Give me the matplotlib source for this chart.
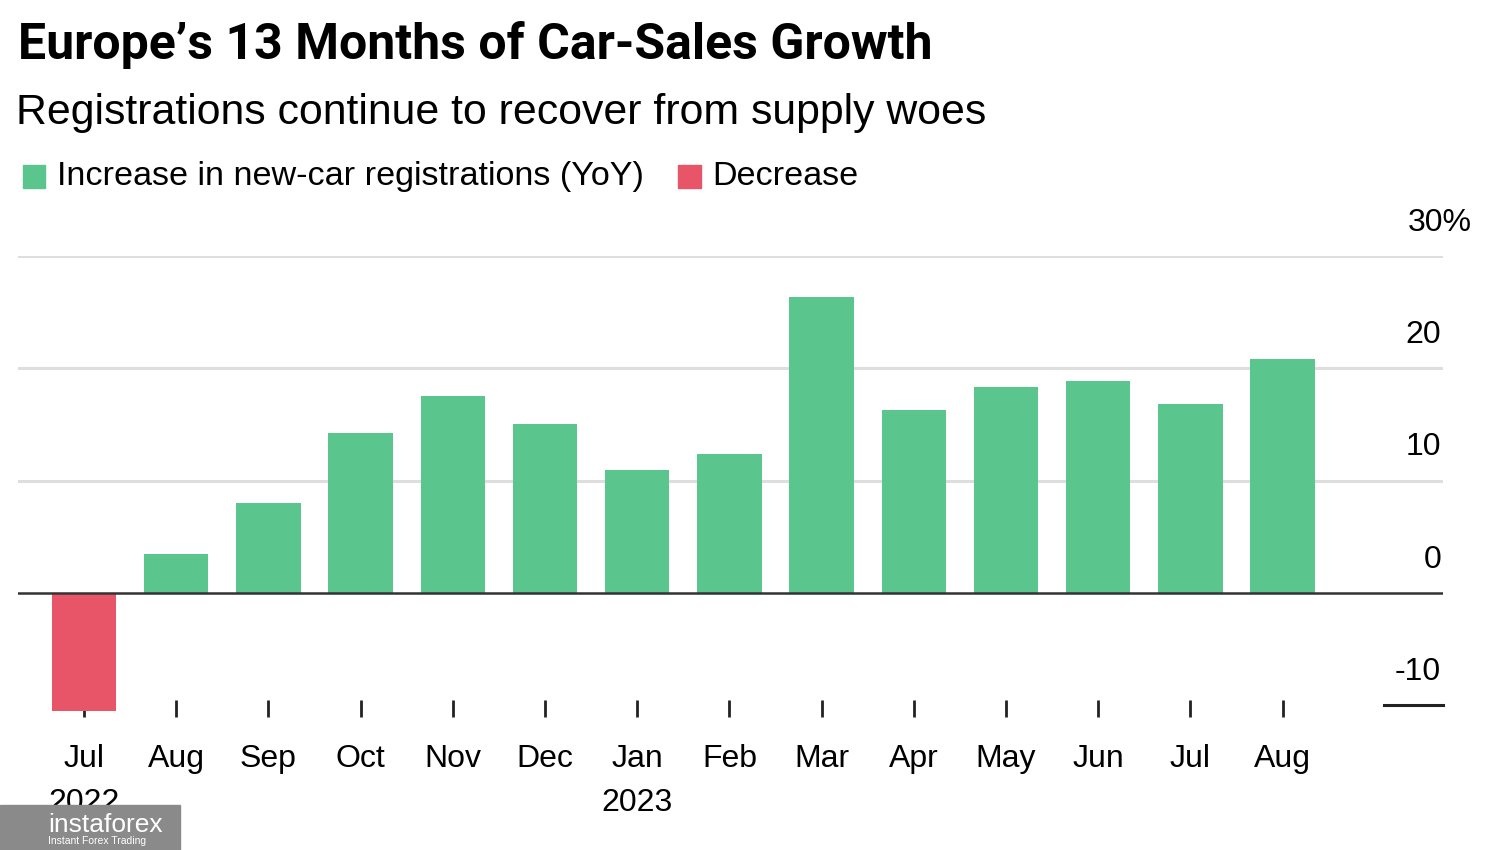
import matplotlib
matplotlib.use("Agg")
import matplotlib.pyplot as plt
from matplotlib.patches import Rectangle

months = ["Jul\n2022", "Aug", "Sep", "Oct", "Nov", "Dec", "Jan\n2023", "Feb",
          "Mar", "Apr", "May", "Jun", "Jul", "Aug"]
values = [-10.5, 3.5, 8.0, 14.2, 17.5, 15.0, 10.9, 12.4, 26.3, 16.3, 18.3, 18.9, 16.8, 20.8]
yticks = [-10, 0, 10, 20, 30]
ytick_labels = ["-10", "0", "10", "20", "30%"]

GREEN = "#5ac68e"
RED = "#e85468"
plt.rcParams['font.family'] = ['Liberation Sans', 'DejaVu Sans']

fig = plt.figure(figsize=(15, 8.5), dpi=100)
ax = fig.add_axes([0.012, 0.157, 0.950, 0.542])

x = list(range(len(values)))
colors = [GREEN if v >= 0 else RED for v in values]
ax.bar(x, values, width=0.70, color=colors, zorder=2)

ax.set_xlim(-0.716, 14.74)
ax.set_ylim(-11, 30)

for t in [10, 20, 30]:
    ax.axhline(t, color="#dedede", lw=2.2, zorder=1)
ax.axhline(0, color="#333333", lw=1.8, zorder=3)
ax.plot([14.1, 14.74], [-10, -10], color="#222222", lw=2.2, zorder=3, clip_on=False)

for s in ax.spines.values():
    s.set_visible(False)

ax.set_yticks([])
ax.set_xticks(x)
ax.set_xticklabels(months, fontsize=23, linespacing=1.6, va="top")
ax.tick_params(axis="x", direction="in", length=12, width=2, color="#222222", pad=0)
for lbl in ax.get_xticklabels():
    lbl.set_y(-0.06)

for t, lab in zip(yticks, ytick_labels):
    dx = 22 if lab == "30%" else 0
    ax.annotate(lab, xy=(14.72, t), xytext=(dx, 24), textcoords="offset points",
                ha="right", va="center", fontsize=23, annotation_clip=False)

fig.text(0.012, 0.947, "Europe\u2019s 13 Months of Car-Sales Growth", fontsize=36,
         fontweight="bold", va="center", ha="left", family=["Roboto", "DejaVu Sans"])
fig.text(0.011, 0.867, "Registrations continue to recover from supply woes", fontsize=30.8,
         va="center", ha="left")

# legend
fig.patches.append(Rectangle((0.015, 0.779), 0.015, 0.027, transform=fig.transFigure,
                             color=GREEN, figure=fig))
fig.text(0.038, 0.792, "Increase in new-car registrations (YoY)", fontsize=24.6,
         va="center", ha="left")
fig.patches.append(Rectangle((0.452, 0.779), 0.015, 0.027, transform=fig.transFigure,
                             color=RED, figure=fig))
fig.text(0.475, 0.792, "Decrease", fontsize=24.6, va="center", ha="left")

# watermark
fig.patches.append(Rectangle((0.0, 0.0), 0.12, 0.053, transform=fig.transFigure,
                             color="#8a8a8a", figure=fig, zorder=10))
fig.text(0.032, 0.030, "instaforex", fontsize=19, color="white", va="center",
         ha="left", zorder=11)
fig.text(0.032, 0.010, "Instant Forex Trading", fontsize=7.5, color="white",
         va="center", ha="left", zorder=11)

fig.savefig("out.png", dpi=100, facecolor="white")
